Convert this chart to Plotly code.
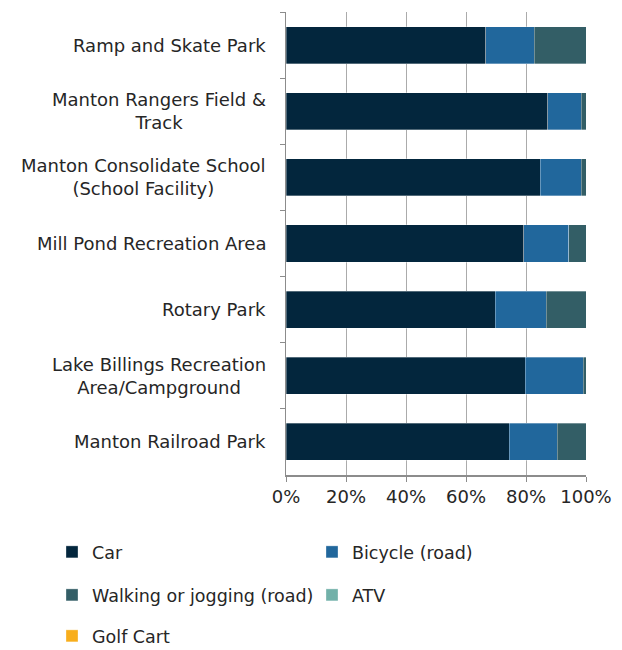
import plotly.graph_objects as go

categories = [
    "Ramp and Skate Park",
    "Manton Rangers Field &<br>Track",
    "Manton Consolidate School<br>(School Facility)",
    "Mill Pond Recreation Area",
    "Rotary Park",
    "Lake Billings Recreation<br>Area/Campground",
    "Manton Railroad Park",
]
car = [66.5, 87.3, 84.7, 79.3, 69.8, 79.7, 74.4]
bicycle = [16.2, 11.1, 13.7, 14.9, 17.0, 19.4, 16.0]
walking = [17.3, 1.6, 1.6, 5.8, 13.2, 0.9, 9.6]
atv = [0, 0, 0, 0, 0, 0, 0]
golf = [0, 0, 0, 0, 0, 0, 0]
x_tickvals = [0, 20, 40, 60, 80, 100]
x_ticktext = ["0%", "20%", "40%", "60%", "80%", "100%"]

series = [
    ("Car", car, "#03263d", "legend"),
    ("Bicycle (road)", bicycle, "#21679c", "legend"),
    ("Walking or jogging (road)", walking, "#335e66", "legend2"),
    ("ATV", atv, "#72b1a9", "legend2"),
    ("Golf Cart", golf, "#f8ae1c", "legend3"),
]

FONT = "DejaVu Sans"
FS = 18
TXT = "#262626"
fig = go.Figure()
for name, vals, color, lg in series:
    fig.add_trace(go.Bar(
        y=categories, x=vals, name=name, orientation="h",
        marker=dict(color=color, line=dict(color="rgba(255,255,255,0.45)", width=0.7)),
        legend=lg,
    ))

for c in categories:
    fig.add_annotation(
        x=0, xref="paper", y=c, yref="y", text=c, showarrow=False,
        xanchor="right", yanchor="middle", align="center", xshift=-18,
        font=dict(family=FONT, size=FS, color=TXT),
    )

W, H = 622, 650
legend_common = dict(
    orientation="h", x=-0.78, xanchor="left", yanchor="middle",
    font=dict(family=FONT, size=FS - 0.5, color=TXT),
    entrywidth=215, entrywidthmode="pixels", bgcolor="rgba(0,0,0,0)",
    traceorder="normal",
)
fig.update_layout(
    template="none",
    width=W, height=H,
    margin=dict(l=286, r=36, t=12, b=175, autoexpand=False),
    paper_bgcolor="white", plot_bgcolor="white",
    barmode="stack", bargap=0.44,
    showlegend=True,
    legend=dict(y=-0.1663, **legend_common),
    legend2=dict(y=-0.2592, **legend_common),
    legend3=dict(y=-0.3477, **legend_common),
)
fig.update_xaxes(
    range=[0, 100], tickmode="array", tickvals=x_tickvals, ticktext=x_ticktext,
    showgrid=True, gridcolor="#ababab", gridwidth=1,
    showline=True, linecolor="#8c8c8c", linewidth=1.5,
    ticks="outside", ticklen=5, tickcolor="#8c8c8c", tickwidth=1,
    tickfont=dict(family=FONT, size=FS, color=TXT),
    zeroline=False, fixedrange=True,
)
fig.update_yaxes(
    categoryorder="array", categoryarray=categories, autorange="reversed",
    showticklabels=False, tickson="boundaries", ticks="outside", ticklen=5,
    tickcolor="#8c8c8c", tickwidth=1, showline=True, linecolor="#8c8c8c", linewidth=1.5,
    showgrid=False, zeroline=False, fixedrange=True,
)

fig.write_html(
    "out.html",
    config={"displayModeBar": False, "staticPlot": True},
    post_script="document.body.style.margin='0';document.body.style.overflow='hidden';",
)
